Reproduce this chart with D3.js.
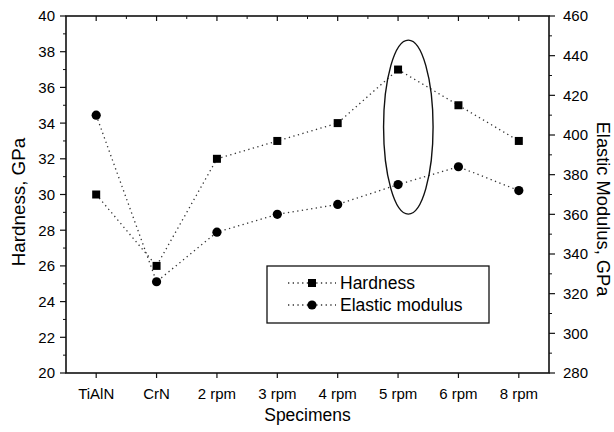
<!DOCTYPE html>
<html><head><meta charset="utf-8">
<script src="https://cdn.jsdelivr.net/npm/d3@7"></script>
<style>
html,body{margin:0;padding:0;background:#fff;}
text{font-family:"Liberation Sans",Arial,sans-serif;fill:#000;}
</style></head>
<body><svg id="c" width="614" height="432"></svg>
<script>
const categories = ["TiAlN","CrN","2 rpm","3 rpm","4 rpm","5 rpm","6 rpm","8 rpm"];
const hardness = [30,26,32,33,34,37,35,33];
const modulus = [410,326,351,360,365,375,384,372];
const leftTicks = [20,22,24,26,28,30,32,34,36,38,40];
const rightTicks = [280,300,320,340,360,380,400,420,440,460];
const seriesNames = ["Hardness","Elastic modulus"];
const highlight = {category:"5 rpm", hardnessRange:[28.9,38.65]};

const W=614,H=432, m={l:66,r:549,t:16,b:373};
const svg=d3.select("#c");
const x=d3.scalePoint().domain(categories).range([m.l,m.r]).padding(0.5);
const yL=d3.scaleLinear().domain([20,40]).range([m.b,m.t]);
const yR=d3.scaleLinear().domain([280,460]).range([m.b,m.t]);
const ink="#111";

const minorL=d3.range(21,40,2), minorR=d3.range(290,460,20);
const step=x.step();
const g=svg.append("g");
// left axis
g.selectAll(".ml").data(minorL).join("line").attr("x1",m.l-3).attr("x2",m.l).attr("y1",d=>yL(d)).attr("y2",d=>yL(d)).attr("stroke",ink).attr("stroke-width",1);
g.selectAll(".Ml").data(leftTicks).join("line").attr("x1",m.l-6).attr("x2",m.l).attr("y1",d=>yL(d)).attr("y2",d=>yL(d)).attr("stroke",ink).attr("stroke-width",1.2);
g.selectAll(".tl").data(leftTicks).join("text").attr("x",m.l-11).attr("y",d=>yL(d)).attr("dy","0.36em").attr("text-anchor","end").attr("font-size",15).text(d=>d);
// right axis
g.selectAll(".mr").data(minorR).join("line").attr("x1",m.r).attr("x2",m.r+3).attr("y1",d=>yR(d)).attr("y2",d=>yR(d)).attr("stroke",ink).attr("stroke-width",1);
g.selectAll(".Mr").data(rightTicks).join("line").attr("x1",m.r).attr("x2",m.r+6).attr("y1",d=>yR(d)).attr("y2",d=>yR(d)).attr("stroke",ink).attr("stroke-width",1.2);
g.selectAll(".tr").data(rightTicks).join("text").attr("x",m.r+14).attr("y",d=>yR(d)).attr("dy","0.36em").attr("text-anchor","start").attr("font-size",15).text(d=>d);
// bottom axis
g.selectAll(".bt").data(categories).join("line").attr("x1",d=>x(d)).attr("x2",d=>x(d)).attr("y1",m.b).attr("y2",m.b+5).attr("stroke",ink).attr("stroke-width",1.2);
g.selectAll(".bl").data(categories).join("text").attr("x",d=>x(d)).attr("y",m.b+26).attr("text-anchor","middle").attr("font-size",15).text(d=>d);
// top ticks (inward), major + minor
g.selectAll(".tt").data(categories).join("line").attr("x1",d=>x(d)).attr("x2",d=>x(d)).attr("y1",m.t).attr("y2",m.t+5).attr("stroke",ink).attr("stroke-width",1.2);
g.selectAll(".tm").data(categories.slice(0,-1)).join("line").attr("x1",d=>x(d)+step/2).attr("x2",d=>x(d)+step/2).attr("y1",m.t).attr("y2",m.t+3).attr("stroke",ink).attr("stroke-width",1);
// frame
g.append("rect").attr("x",m.l).attr("y",m.t).attr("width",m.r-m.l).attr("height",m.b-m.t).attr("fill","none").attr("stroke",ink).attr("stroke-width",1.6);

// titles
svg.append("text").attr("transform",`translate(25,202) rotate(-90)`).attr("text-anchor","middle").attr("font-size",18.8).text("Hardness, GPa");
svg.append("text").attr("transform",`translate(597,209) rotate(90)`).attr("text-anchor","middle").attr("font-size",18.3).text("Elastic Modulus, GPa");
svg.append("text").attr("x",(m.l+m.r)/2).attr("y",421).attr("text-anchor","middle").attr("font-size",17.5).text("Specimens");

// series
const dash="1.3,3.4";
const lineH=d3.line().x((d,i)=>x(categories[i])).y(d=>yL(d));
const lineE=d3.line().x((d,i)=>x(categories[i])).y(d=>yR(d));
svg.append("path").attr("d",lineH(hardness)).attr("fill","none").attr("stroke","#333").attr("stroke-width",1.3).attr("stroke-dasharray",dash);
svg.append("path").attr("d",lineE(modulus)).attr("fill","none").attr("stroke","#333").attr("stroke-width",1.3).attr("stroke-dasharray",dash);
const sq=8;
svg.selectAll(".sq").data(hardness).join("rect").attr("x",(d,i)=>x(categories[i])-sq/2).attr("y",d=>yL(d)-sq/2).attr("width",sq).attr("height",sq).attr("fill","#000");
svg.selectAll(".ci").data(modulus).join("circle").attr("cx",(d,i)=>x(categories[i])).attr("cy",d=>yR(d)).attr("r",4.6).attr("fill","#000");

// highlight ellipse
const ey0=yL(highlight.hardnessRange[1]), ey1=yL(highlight.hardnessRange[0]);
svg.append("ellipse").attr("cx",x(highlight.category)+step*0.17).attr("cy",(ey0+ey1)/2).attr("rx",step*0.41).attr("ry",(ey1-ey0)/2).attr("fill","none").attr("stroke",ink).attr("stroke-width",1.4);

// legend
const lg=svg.append("g");
lg.append("rect").attr("x",267).attr("y",266).attr("width",222).attr("height",57).attr("fill","#fff").attr("stroke",ink).attr("stroke-width",1.3);
seriesNames.forEach((s,i)=>{
  const cy=283+i*22;
  lg.append("line").attr("x1",288).attr("x2",336).attr("y1",cy).attr("y2",cy).attr("stroke","#333").attr("stroke-width",1.3).attr("stroke-dasharray",dash);
  if(i===0) lg.append("rect").attr("x",312-sq/2).attr("y",cy-sq/2).attr("width",sq).attr("height",sq).attr("fill","#000");
  else lg.append("circle").attr("cx",312).attr("cy",cy).attr("r",4.6).attr("fill","#000");
  lg.append("text").attr("x",340).attr("y",cy).attr("dy","0.36em").attr("font-size",17.5).text(s);
});
</script></body></html>
